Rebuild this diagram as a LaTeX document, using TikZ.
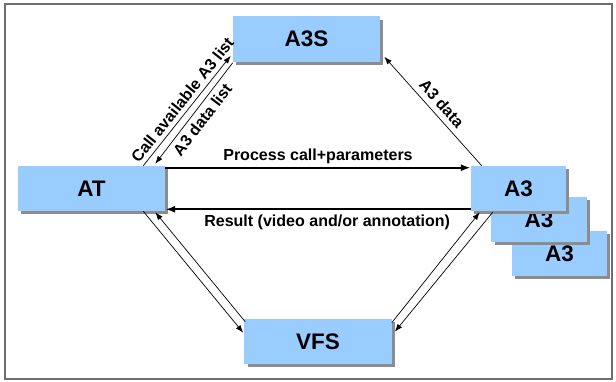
\documentclass[tikz,border=0pt]{standalone}
\usepackage{fontspec}
\setmainfont{Liberation Sans}
\usetikzlibrary{calc,shadows,arrows.meta}
\definecolor{boxblue}{HTML}{99CCFF}
\definecolor{framegray}{HTML}{6E6E6E}
\begin{document}
\begin{tikzpicture}[x=0.025cm, y=-0.025cm,
    >={Latex[length=5.5pt,width=4pt]},
    unit/.style={fill=boxblue, minimum width=3.675cm, minimum height=1.125cm,
      inner sep=0pt, font=\fontsize{16}{18}\selectfont\bfseries,
      drop shadow={shadow xshift=2.2pt, shadow yshift=-2.2pt, fill=black!45, opacity=1}},
    a3unit/.style={unit, minimum width=2.375cm},
    msg/.style={font=\fontsize{11.4}{13}\selectfont\bfseries, inner sep=2pt},
    link/.style={line width=0.5pt},
    flow/.style={line width=1.4pt, >={Latex[length=7pt,width=5pt]}}]
  % Frame
  \useasboundingbox (0,0) rectangle (616,381);
  \draw[framegray, line width=1.2pt] (5,4) rectangle (612,379);

  % Units
  \node[unit] (A3S) at (306.5,39) {A3S};
  \node[unit] (AT) at (91.5,188.5) {AT};
  \node[unit] (VFS) at (318,341.5) {VFS};

  % Stack of A3 units, back to front
  \foreach \name/\x/\y in {A3c/559.5/253.5, A3b/539/219.5, A3/518.5/188.5}
    \node[a3unit] (\name) at (\x,\y) {A3};

  % AT and A3
  \draw[flow, ->] ($(AT.north east)+(0,2)$) -- node[msg, above] {Process call+parameters} ($(A3.north west)+(0,2)$);
  \draw[flow, ->] ($(A3.south west)+(0,-2)$) -- node[msg, below, pos=0.47, inner sep=3.5pt] {Result (video and/or annotation)} ($(AT.south east)+(0,-2)$);

  % AT and A3S
  \draw[link, ->] ($(AT.north east)+(-22,0)$) -- node[msg, sloped, above, pos=0.54, inner sep=3pt] {Call available A3 list} ($(A3S.south west)+(-2,-6)$);
  \draw[link, <-] ($(AT.north east)+(-10,-2)$) -- node[msg, sloped, below, inner sep=3pt] {A3 data list} ($(A3S.south west)+(0,1)$);

  % A3 and A3S
  \draw[link, <-] ($(A3S.south east)+(4,-5)$) -- node[msg, sloped, above, inner sep=4pt] {A3 data} ($(A3.north west)+(11,0)$);

  % AT and VFS
  \draw[link, ->] ($(AT.south east)+(-22,0)$) -- ($(VFS.north west)+(-1,14)$);
  \draw[link, ->] ($(VFS.north west)+(1,3)$) -- ($(AT.south east)+(-10,1)$);

  % A3 and VFS
  \draw[link, ->] ($(VFS.north east)+(0,4)$) -- ($(A3.south west)+(9,1)$);
  \draw[link, ->] ($(A3.south west)+(22,1)$) -- ($(VFS.north east)+(3,13)$);
\end{tikzpicture}
\end{document}
